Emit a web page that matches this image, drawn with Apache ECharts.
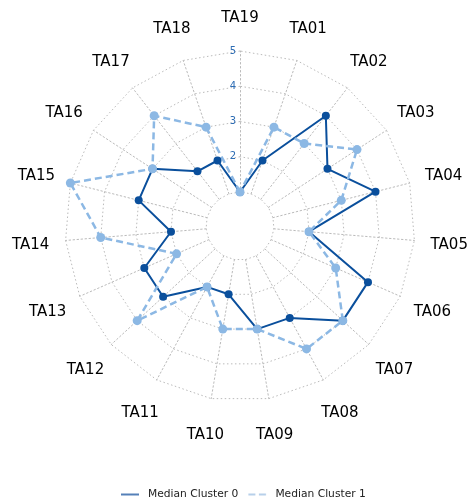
<!DOCTYPE html>
<html><head><meta charset="utf-8">
<script src="https://cdn.jsdelivr.net/npm/echarts@6/dist/echarts.min.js"></script>
<style>html,body{margin:0;padding:0;background:#fff}#c{width:473px;height:502px}</style>
</head><body><div id="c"></div>
<script>
// categories listed clockwise starting at the top
const categories = ['TA19','TA01','TA02','TA03','TA04','TA05','TA06','TA07','TA08','TA09','TA10','TA11','TA12','TA13','TA14','TA15','TA16','TA17','TA18'];
const cluster0 = [1,2,4,3,4,2,4,4,3,3,2,2,3,3,2,3,3,2,2];
const cluster1 = [1,3,3,4,3,2,3,4,4,3,3,2,4,2,4,5,3,4,3];
const seriesNames = ['Median Cluster 0','Median Cluster 1'];
const radialTicks = [1,2,3,4,5];

// ECharts places radar indicators counter-clockwise; reorder so the picture reads clockwise
const order = [0];
for (let i = categories.length - 1; i >= 1; i--) order.push(i);
const reorder = arr => order.map(i => arr[i]);

const rMin = radialTicks[0], rMax = radialTicks[radialTicks.length - 1];
const indicators = reorder(categories).map((name, k) => {
  const ind = { name: name, min: rMin, max: rMax };
  if (k === 0) {
    ind.axisLabel = {
      show: true, color: '#2e6db4', fontSize: 10, fontFamily: 'DejaVu Sans',
      margin: 4, showMinLabel: false,
      formatter: v => (v === rMin ? '' : String(v))
    };
  }
  return ind;
});

const dark = '#0a4f9c', light = '#8cb8e4';
const chart = echarts.init(document.getElementById('c'));
chart.setOption({
  animation: false,
  backgroundColor: '#fff',
  legend: {
    left: 121, top: 489, padding: 0,
    itemWidth: 18, itemHeight: 2, itemGap: 10,
    textStyle: { fontSize: 10.7, fontFamily: 'DejaVu Sans', color: '#222', padding: [0,0,0,4] },
    data: [
      { name: seriesNames[0], icon: 'path://M0,0H18V2H0Z', itemStyle: { color: '#5580b8' } },
      { name: seriesNames[1], icon: 'path://M0,0H7V2H0Z M10.5,0H17.5V2H10.5Z M17.9,0H18V2H17.9Z', itemStyle: { color: '#b7d0ea' } }
    ]
  },
  radar: {
    center: [240, 226],
    radius: [34, 175],
    startAngle: 90,
    shape: 'polygon',
    splitNumber: radialTicks.length - 1,
    nameGap: 35,
    axisName: {
      color: '#000', fontSize: 15, fontFamily: 'DejaVu Sans', align: 'center', verticalAlign: 'middle',
      formatter: n => '{n|' + n + '}',
      rich: { n: { color: '#000', fontSize: 15, fontFamily: 'DejaVu Sans', padding: [4, 0, 0, 0] } }
    },
    axisLine: { lineStyle: { color: '#bbbbbb', type: [1.5, 2.5], width: 1 } },
    splitLine: { lineStyle: { color: '#bbbbbb', type: [1.5, 2.5], width: 1 } },
    splitArea: { show: false },
    axisTick: { show: false },
    axisLabel: { show: false },
    indicator: indicators
  },
  series: [{
    type: 'radar',
    symbol: 'circle',
    symbolSize: 8,
    data: [
      { name: seriesNames[0], value: reorder(cluster0),
        lineStyle: { color: dark, width: 2 }, itemStyle: { color: dark } },
      { name: seriesNames[1], value: reorder(cluster1),
        lineStyle: { color: light, width: 2.5, type: [7, 4] }, itemStyle: { color: light }, symbolSize: 9 }
    ]
  }]
});
</script></body></html>
